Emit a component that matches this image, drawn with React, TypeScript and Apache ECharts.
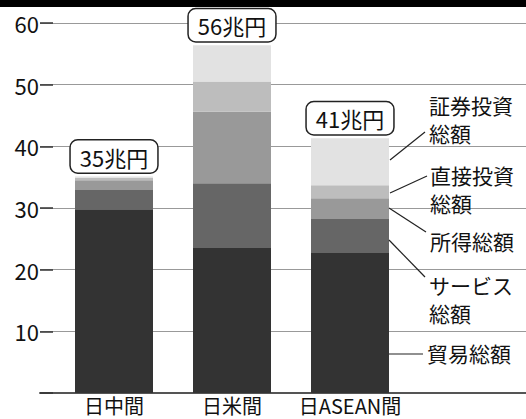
import React, { useEffect, useRef } from "react";
import * as echarts from "echarts";

const categories = ["日中間", "日米間", "日ASEAN間"];
const trade = [29.8, 23.5, 22.7];
const services = [3.1, 10.5, 5.5];
const income = [1.6, 11.6, 3.4];
const direct = [0.4, 4.9, 2.1];
const portfolio = [0.2, 5.9, 7.6];
const totals = [35, 56, 41];
const yTicks = [0, 10, 20, 30, 40, 50, 60];

const seriesNames = ["貿易総額", "サービス総額", "所得総額", "直接投資総額", "証券投資総額"];
const seriesData = [trade, services, income, direct, portfolio];
const colors = ["#333333", "#666666", "#999999", "#bdbdbd", "#e2e2e2"];

const FONT = "'Noto Sans CJK JP', 'Noto Sans', sans-serif";

export default function App() {
  const ref = useRef<HTMLDivElement>(null);
  useEffect(() => {
    if (!ref.current) return;
    const chart = echarts.init(ref.current, undefined, { renderer: "svg" });
    const txt = (x: number, y: number, s: string) => ({
      type: "text",
      x,
      y,
      style: {
        text: s,
        font: `21px ${FONT}`,
        lineHeight: 28,
        fill: "#111",
        textVerticalAlign: "top",
      },
      z: 10,
    });
    const ln = (x1: number, y1: number, x2: number, y2: number) => ({
      type: "line",
      shape: { x1, y1, x2, y2 },
      style: { stroke: "#222", lineWidth: 1.2 },
      z: 10,
    });
    chart.setOption({
      animation: false,
      backgroundColor: "#ffffff",
      textStyle: { fontFamily: FONT },
      grid: [
        { left: 40, right: 0, top: 23, bottom: 26 },
        { left: 55, right: 117, top: 23, bottom: 26 },
      ],
      xAxis: [
        {
          type: "category",
          gridIndex: 0,
          data: categories,
          axisLine: { show: true, lineStyle: { color: "#555", width: 2 } },
          axisTick: { show: false },
          axisLabel: { show: false },
        },
        {
          type: "category",
          gridIndex: 1,
          data: categories,
          axisLine: { show: false },
          axisTick: { show: false },
          axisLabel: { interval: 0, fontSize: 20, lineHeight: 20, color: "#111", margin: 2, fontFamily: FONT },
        },
      ],
      yAxis: [
        {
          type: "value",
          gridIndex: 0,
          min: yTicks[0],
          max: yTicks[yTicks.length - 1],
          interval: 10,
          axisLine: { show: false },
          axisTick: { show: true, inside: true, length: 13, lineStyle: { color: "#333", width: 1.5 } },
          axisLabel: {
            fontSize: 22,
            color: "#111",
            margin: 1,
            fontFamily: FONT,
            formatter: (v: number) => (v === 0 ? "" : String(v)),
          },
          splitLine: { lineStyle: { color: "#999", width: 1.2 } },
        },
        {
          type: "value",
          gridIndex: 1,
          min: yTicks[0],
          max: yTicks[yTicks.length - 1],
          interval: 10,
          show: false,
          splitLine: { show: false },
        },
      ],
      series: seriesData.map((d, i) => ({
        type: "bar",
        name: seriesNames[i],
        xAxisIndex: 1,
        yAxisIndex: 1,
        stack: "total",
        data: d,
        barWidth: 78,
        itemStyle: { color: colors[i] },
        z: 3,
        label:
          i === seriesData.length - 1
            ? {
                show: true,
                position: "top",
                distance: 4,
                formatter: (p: any) => `${totals[p.dataIndex]}兆円`,
                fontSize: 22,
                lineHeight: 22,
                color: "#111",
                fontFamily: FONT,
                backgroundColor: "#fff",
                borderColor: "#222",
                borderWidth: 1.5,
                borderRadius: 7,
                padding: [5, 9, 5, 9],
              }
            : { show: false },
      })),
      graphic: [
        { type: "rect", shape: { x: 0, y: 0, width: 526, height: 7 }, style: { fill: "#000" }, z: 1 },
        txt(429, 91, "証券投資\n総額"),
        txt(430, 161, "直接投資\n総額"),
        txt(430, 227, "所得総額"),
        txt(429, 271, "サービス\n総額"),
        txt(427, 339, "貿易総額"),
        ln(390, 160, 425, 132),
        ln(390, 193, 427, 176),
        ln(389, 208, 426, 232),
        ln(389, 240, 425, 277),
        ln(389, 354, 423, 354),
      ],
    });
    return () => chart.dispose();
  }, []);
  return (
    <div
      ref={ref}
      style={{ position: "fixed", left: 0, top: 0, width: 526, height: 419 }}
    />
  );
}
